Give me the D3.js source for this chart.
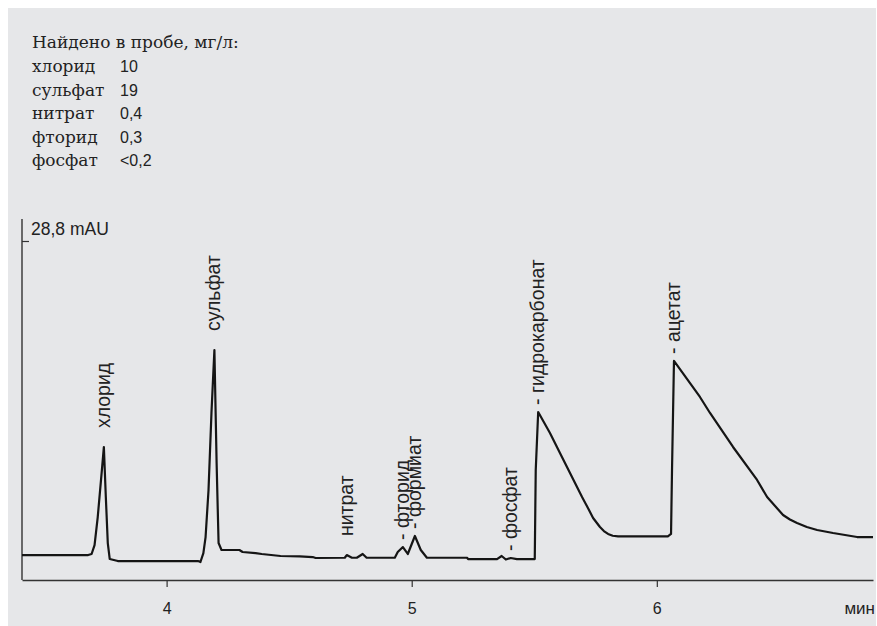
<!DOCTYPE html>
<html>
<head>
<meta charset="utf-8">
<script src="https://cdn.jsdelivr.net/npm/d3@7"></script>
<style>
  html, body { margin: 0; padding: 0; background: #ffffff; }
  svg { display: block; }
</style>
</head>
<body>
<svg id="chart" width="877" height="626"></svg>
<script>
// Retention time, min
const times = [
  3.410, 3.680, 3.694, 3.706, 3.719, 3.736, 3.744, 3.752, 3.760, 3.768, 3.801,
  4.128, 4.138, 4.150, 4.159, 4.171, 4.183, 4.195, 4.204, 4.212, 4.224, 4.297,
  4.310, 4.363, 4.388, 4.465, 4.543, 4.596, 4.608, 4.727, 4.735, 4.756, 4.776,
  4.800, 4.816, 4.931, 4.943, 4.964, 4.984, 5.013, 5.037, 5.062, 5.226, 5.230,
  5.348, 5.367, 5.384, 5.404, 5.429, 5.495, 5.502, 5.506, 5.516, 5.564, 5.613,
  5.654, 5.695, 5.719, 5.740, 5.768, 5.784, 5.801, 5.820, 5.842, 6.045, 6.058,
  6.062, 6.070, 6.176, 6.217, 6.311, 6.409, 6.450, 6.515, 6.543, 6.572, 6.612,
  6.654, 6.719, 6.817, 6.882
];
// Detector signal, mAU
const signal = [
  2.12, 2.12, 2.21, 2.97, 5.35, 9.35, 11.30, 7.05, 3.14, 1.78, 1.61,
  1.61, 1.53, 2.29, 3.65, 7.65, 14.19, 19.54, 9.94, 3.14, 2.55, 2.55,
  2.38, 2.29, 2.21, 2.04, 2.00, 1.95, 1.87, 1.89, 2.12, 1.89, 1.89,
  2.21, 1.89, 1.89, 2.38, 2.80, 2.21, 3.74, 2.55, 1.89, 1.89, 1.78,
  1.78, 2.04, 1.74, 1.87, 1.78, 1.78, 1.78, 9.35, 14.27, 12.49, 10.45,
  8.75, 7.05, 6.12, 5.27, 4.50, 4.16, 3.91, 3.76, 3.70, 3.70, 3.91,
  9.35, 18.61, 15.55, 14.19, 11.30, 8.50, 7.05, 5.52, 5.14, 4.84, 4.50,
  4.25, 3.99, 3.65, 3.65
];

// Peak annotations
const peakNames = ["хлорид", "сульфат", "нитрат", "фторид", "формиат", "фосфат", "гидрокарбонат", "ацетат"];
const peakTimes = [3.744, 4.195, 4.735, 4.964, 5.013, 5.404, 5.516, 6.070];
const peakMarked = [false, false, false, true, true, true, true, true];

// Found concentrations, mg/l
const foundNames = ["хлорид", "сульфат", "нитрат", "фторид", "фосфат"];
const foundValues = ["10", "19", "0,4", "0,3", "<0,2"];

const xTicks = [4, 5, 6];
const yTickValue = 28.8;

const svg = d3.select("#chart");

svg.append("rect")
  .attr("x", 8).attr("y", 8)
  .attr("width", 868).attr("height", 618)
  .attr("fill", "#e6e7e9");

const x = d3.scaleLinear().domain([3.41, 6.882]).range([22, 873]);
const y = d3.scaleLinear().domain([0, yTickValue]).range([580, 241]);

const sans = "'Liberation Sans', Arial, sans-serif";
const serif = "'DejaVu Serif', serif";
const ink = "#222";

// Summary block
const head = svg.append("g").attr("fill", ink);
head.append("text")
  .attr("x", 32).attr("y", 48)
  .attr("font-family", serif).attr("font-size", 17)
  .text("Найдено в пробе, мг/л:");
foundNames.forEach((n, i) => {
  head.append("text")
    .attr("x", 32).attr("y", 72 + i * 23.6)
    .attr("font-family", serif).attr("font-size", 17)
    .text(n);
  head.append("text")
    .attr("x", 120).attr("y", 72 + i * 23.6)
    .attr("font-family", sans).attr("font-size", 16)
    .text(foundValues[i]);
});

// X axis
const xAxis = d3.axisBottom(x).tickValues(xTicks).tickSize(7).tickSizeOuter(0)
  .tickFormat(d3.format("d"));
const gx = svg.append("g").attr("transform", `translate(0,${y(0)})`).call(xAxis);
gx.select(".domain").attr("stroke", "#333").attr("stroke-width", 1.4);
gx.selectAll(".tick line").attr("stroke", "#333").attr("stroke-width", 1.2);
gx.selectAll(".tick text")
  .attr("font-family", sans).attr("font-size", 16).attr("fill", ink)
  .attr("dy", "1.5em");

svg.append("text")
  .attr("x", 875).attr("y", y(0) + 34)
  .attr("text-anchor", "end")
  .attr("font-family", sans).attr("font-size", 17).attr("fill", ink)
  .text("мин");

// Y axis
const yAxis = d3.axisRight(y).tickValues([yTickValue]).tickSize(7).tickSizeOuter(0)
  .tickFormat(() => "");
const gy = svg.append("g").attr("transform", `translate(${x(3.41)},0)`).call(yAxis);
gy.select(".domain").remove();
gy.selectAll(".tick line").attr("stroke", "#333").attr("stroke-width", 1.2);
svg.append("line")
  .attr("x1", x(3.41)).attr("x2", x(3.41))
  .attr("y1", y(0)).attr("y2", y(yTickValue) - 22)
  .attr("stroke", "#333").attr("stroke-width", 1.4);
svg.append("text")
  .attr("x", x(3.41) + 9).attr("y", y(yTickValue) - 6)
  .attr("font-family", sans).attr("font-size", 17.5).attr("fill", ink)
  .text("28,8 mAU");

// Chromatogram trace
const pts = times.map((t, i) => [t, signal[i]]);
const line = d3.line().x(d => x(d[0])).y(d => y(d[1]));
svg.append("path")
  .datum(pts)
  .attr("d", line)
  .attr("fill", "none")
  .attr("stroke", "#151515")
  .attr("stroke-width", 2.2)
  .attr("stroke-linejoin", "round");

// Peak labels, rotated, starting just above each apex
function apex(t) {
  let best = 0;
  pts.forEach(p => { if (Math.abs(p[0] - t) <= 0.012) best = Math.max(best, p[1]); });
  return best;
}
peakNames.forEach((name, i) => {
  const px = x(peakTimes[i]) + 6;
  const py = y(apex(peakTimes[i])) - 7;
  const t = svg.append("text")
    .attr("transform", `translate(${px},${py}) rotate(-90)`)
    .attr("font-family", sans).attr("font-size", 19.5).attr("fill", ink);
  t.append("tspan")
    .attr("visibility", peakMarked[i] ? "visible" : "hidden")
    .text("- ");
  t.append("tspan").text(name);
});
</script>
</body>
</html>
